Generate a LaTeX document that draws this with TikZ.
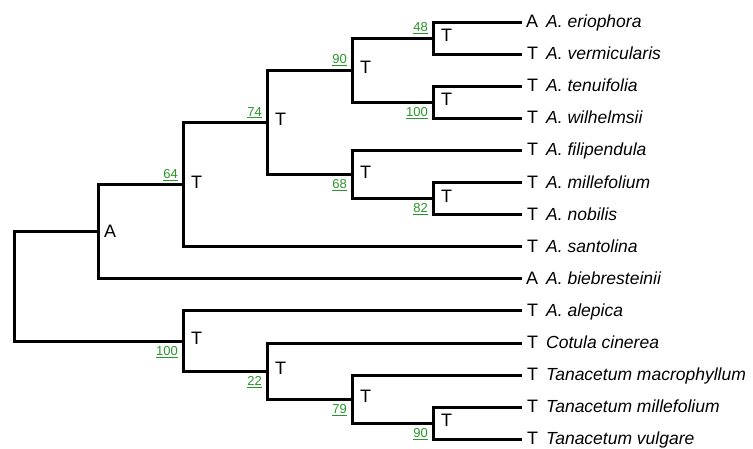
\documentclass[tikz,border=0pt]{standalone}
\usepackage{fontspec}
\setmainfont{Liberation Sans}
\definecolor{bsgreen}{RGB}{40,150,40}
\begin{document}
\begin{tikzpicture}[x=1pt,y=-1pt,
  edge/.style={line width=3pt, line join=miter},
  bs/.style={text=bsgreen, font=\fontsize{13}{13}\selectfont, inner sep=0pt},
  lab/.style={font=\fontsize{18}{18}\selectfont, inner sep=0pt},
  sp/.style={font=\fontsize{17.5}{17.5}\selectfont\itshape, inner sep=0pt}]
\useasboundingbox (0,0) rectangle (753,448);
% leaf ends
\coordinate (e1) at (522,22);
\coordinate (e2) at (522,54.1);
\coordinate (e3) at (522,86.2);
\coordinate (e4) at (522,118.3);
\coordinate (e5) at (522,150.4);
\coordinate (e6) at (522,182.5);
\coordinate (e7) at (522,214.6);
\coordinate (e8) at (522,246.7);
\coordinate (e9) at (522,278.8);
\coordinate (e10) at (522,310.9);
\coordinate (e11) at (522,343);
\coordinate (e12) at (522,375.1);
\coordinate (e13) at (522,407.2);
\coordinate (e14) at (522,439.3);
% internal nodes
\coordinate (n48) at (433,38);
\coordinate (n100a) at (433,102.2);
\coordinate (n90) at (352,70.1);
\coordinate (n82) at (433,198.5);
\coordinate (n68) at (352,174.5);
\coordinate (n74) at (267,122.3);
\coordinate (n64) at (183,184.5);
\coordinate (nA) at (98,231.6);
\coordinate (n90b) at (433,423.2);
\coordinate (n79) at (352,399.2);
\coordinate (n22) at (267,371.1);
\coordinate (n100b) at (183,341);
\coordinate (root) at (14,286.3);
% edges
\draw[edge] (root) |- (nA);
\draw[edge] (root) |- (n100b);
\draw[edge] (nA) |- (n64);
\draw[edge] (nA) |- (e9);
\draw[edge] (n64) |- (n74);
\draw[edge] (n64) |- (e8);
\draw[edge] (n74) |- (n90);
\draw[edge] (n74) |- (n68);
\draw[edge] (n90) |- (n48);
\draw[edge] (n90) |- (n100a);
\draw[edge] (n48) |- (e1);
\draw[edge] (n48) |- (e2);
\draw[edge] (n100a) |- (e3);
\draw[edge] (n100a) |- (e4);
\draw[edge] (n68) |- (e5);
\draw[edge] (n68) |- (n82);
\draw[edge] (n82) |- (e6);
\draw[edge] (n82) |- (e7);
\draw[edge] (n100b) |- (e10);
\draw[edge] (n100b) |- (n22);
\draw[edge] (n22) |- (e11);
\draw[edge] (n22) |- (n79);
\draw[edge] (n79) |- (e12);
\draw[edge] (n79) |- (n90b);
\draw[edge] (n90b) |- (e13);
\draw[edge] (n90b) |- (e14);
% leaf state labels
\node[lab, anchor=base west] (t1) at ([xshift=4pt,yshift=-5.5pt]e1) {A};
\node[lab, anchor=base west] (t2) at ([xshift=5pt,yshift=-5.5pt]e2) {T};
\node[lab, anchor=base west] (t3) at ([xshift=5pt,yshift=-5.5pt]e3) {T};
\node[lab, anchor=base west] (t4) at ([xshift=5pt,yshift=-5.5pt]e4) {T};
\node[lab, anchor=base west] (t5) at ([xshift=5pt,yshift=-5.5pt]e5) {T};
\node[lab, anchor=base west] (t6) at ([xshift=5pt,yshift=-5.5pt]e6) {T};
\node[lab, anchor=base west] (t7) at ([xshift=5pt,yshift=-5.5pt]e7) {T};
\node[lab, anchor=base west] (t8) at ([xshift=5pt,yshift=-5.5pt]e8) {T};
\node[lab, anchor=base west] (t9) at ([xshift=4pt,yshift=-5.5pt]e9) {A};
\node[lab, anchor=base west] (t10) at ([xshift=5pt,yshift=-5.5pt]e10) {T};
\node[lab, anchor=base west] (t11) at ([xshift=5pt,yshift=-5.5pt]e11) {T};
\node[lab, anchor=base west] (t12) at ([xshift=5pt,yshift=-5.5pt]e12) {T};
\node[lab, anchor=base west] (t13) at ([xshift=5pt,yshift=-5.5pt]e13) {T};
\node[lab, anchor=base west] (t14) at ([xshift=5pt,yshift=-5.5pt]e14) {T};
% species names
\node[sp, anchor=base west] (s1) at ([xshift=24pt,yshift=-5.5pt]e1) {A. eriophora};
\node[sp, anchor=base west] (s2) at ([xshift=24pt,yshift=-5.5pt]e2) {A. vermicularis};
\node[sp, anchor=base west] (s3) at ([xshift=24pt,yshift=-5.5pt]e3) {A. tenuifolia};
\node[sp, anchor=base west] (s4) at ([xshift=24pt,yshift=-5.5pt]e4) {A. wilhelmsii};
\node[sp, anchor=base west] (s5) at ([xshift=24pt,yshift=-5.5pt]e5) {A. filipendula};
\node[sp, anchor=base west] (s6) at ([xshift=24pt,yshift=-5.5pt]e6) {A. millefolium};
\node[sp, anchor=base west] (s7) at ([xshift=24pt,yshift=-5.5pt]e7) {A. nobilis};
\node[sp, anchor=base west] (s8) at ([xshift=24pt,yshift=-5.5pt]e8) {A. santolina};
\node[sp, anchor=base west] (s9) at ([xshift=24pt,yshift=-5.5pt]e9) {A. biebresteinii};
\node[sp, anchor=base west] (s10) at ([xshift=24pt,yshift=-5.5pt]e10) {A. alepica};
\node[sp, anchor=base west] (s11) at ([xshift=24pt,yshift=-5.5pt]e11) {Cotula cinerea};
\node[sp, anchor=base west] (s12) at ([xshift=24pt,yshift=-5.5pt]e12) {Tanacetum macrophyllum};
\node[sp, anchor=base west] (s13) at ([xshift=24pt,yshift=-5.5pt]e13) {Tanacetum millefolium};
\node[sp, anchor=base west] (s14) at ([xshift=24pt,yshift=-5.5pt]e14) {Tanacetum vulgare};
% internal state labels
\node[lab, anchor=west] (i48) at ([xshift=8pt,yshift=2.5pt]n48) {T};
\node[lab, anchor=west] (i100a) at ([xshift=8pt,yshift=2.5pt]n100a) {T};
\node[lab, anchor=west] (i90) at ([xshift=8pt,yshift=2.5pt]n90) {T};
\node[lab, anchor=west] (i82) at ([xshift=8pt,yshift=2.5pt]n82) {T};
\node[lab, anchor=west] (i68) at ([xshift=8pt,yshift=2.5pt]n68) {T};
\node[lab, anchor=west] (i74) at ([xshift=8pt,yshift=2.5pt]n74) {T};
\node[lab, anchor=west] (i64) at ([xshift=8pt,yshift=2.5pt]n64) {T};
\node[lab, anchor=west] (iA) at ([xshift=6pt,yshift=0pt]nA) {A};
\node[lab, anchor=west] (i90b) at ([xshift=8pt,yshift=2.5pt]n90b) {T};
\node[lab, anchor=west] (i79) at ([xshift=8pt,yshift=2.5pt]n79) {T};
\node[lab, anchor=west] (i22) at ([xshift=8pt,yshift=2.5pt]n22) {T};
\node[lab, anchor=west] (i100b) at ([xshift=8pt,yshift=2.5pt]n100b) {T};
% bootstrap values
\node[bs, anchor=south east] (b48) at ([xshift=-5pt,yshift=4pt]n48) {\underline{48}};
\node[bs, anchor=south east] (b90) at ([xshift=-5pt,yshift=4pt]n90) {\underline{90}};
\node[bs, anchor=south east] (b74) at ([xshift=-5pt,yshift=4pt]n74) {\underline{74}};
\node[bs, anchor=south east] (b64) at ([xshift=-5pt,yshift=4pt]n64) {\underline{64}};
\node[bs, anchor=north east] (b100a) at ([xshift=-5pt,yshift=-5pt]n100a) {\underline{100}};
\node[bs, anchor=north east] (b68) at ([xshift=-5pt,yshift=-5pt]n68) {\underline{68}};
\node[bs, anchor=north east] (b82) at ([xshift=-5pt,yshift=-5pt]n82) {\underline{82}};
\node[bs, anchor=north east] (b100b) at ([xshift=-5pt,yshift=-5pt]n100b) {\underline{100}};
\node[bs, anchor=north east] (b22) at ([xshift=-5pt,yshift=-5pt]n22) {\underline{22}};
\node[bs, anchor=north east] (b79) at ([xshift=-5pt,yshift=-5pt]n79) {\underline{79}};
\node[bs, anchor=north east] (b90b) at ([xshift=-5pt,yshift=-5pt]n90b) {\underline{90}};
\end{tikzpicture}
\end{document}
